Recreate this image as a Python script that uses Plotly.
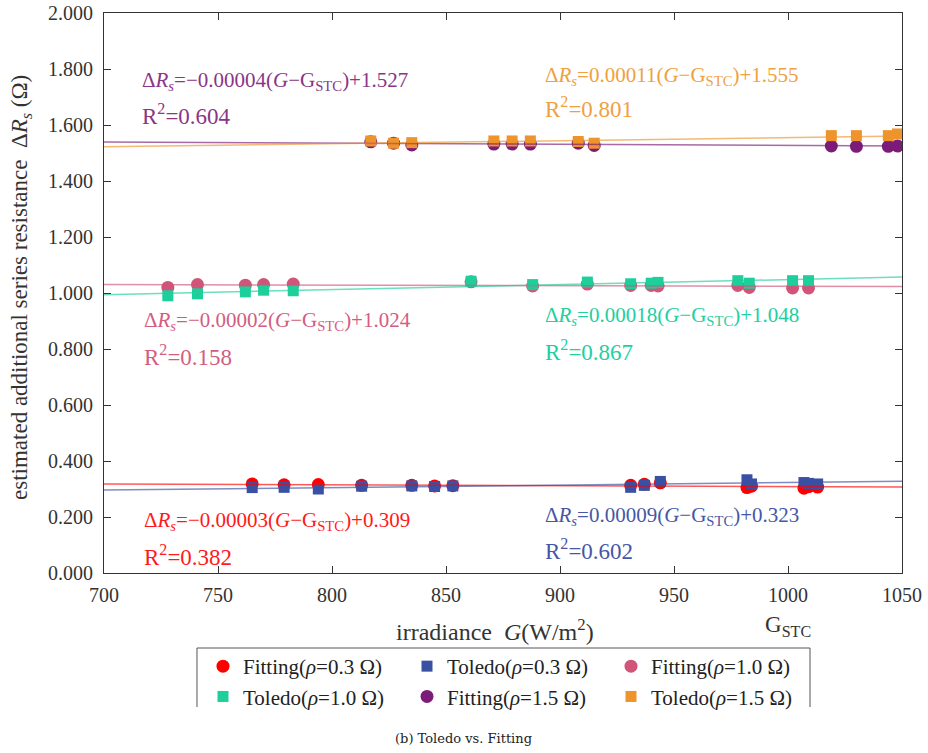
import plotly.graph_objects as go
import numpy as np

G_STC = 1000

# ---- data ----
g_low = [765, 779, 794, 813, 835, 845, 853, 931, 937, 944, 982, 984, 1007, 1009, 1013]
fit_03 = [0.318, 0.315, 0.316, 0.313, 0.313, 0.311, 0.312, 0.313, 0.317, 0.322, 0.305, 0.310, 0.303, 0.308, 0.307]
tol_03 = [0.305, 0.306, 0.300, 0.310, 0.311, 0.309, 0.311, 0.306, 0.313, 0.327, 0.333, 0.318, 0.323, 0.320, 0.318]

g_mid = [728, 741, 762, 770, 783, 861, 888, 912, 931, 940, 943, 978, 983, 1002, 1009]
fit_10 = [1.020, 1.030, 1.028, 1.030, 1.032, 1.040, 1.025, 1.032, 1.027, 1.027, 1.025, 1.027, 1.020, 1.018, 1.018]
tol_10 = [0.990, 0.997, 1.004, 1.010, 1.008, 1.042, 1.030, 1.039, 1.033, 1.035, 1.038, 1.044, 1.035, 1.044, 1.044]

g_high = [817, 827, 835, 871, 879, 887, 908, 915, 1019, 1030, 1044, 1048]
fit_15 = [1.540, 1.535, 1.529, 1.532, 1.532, 1.532, 1.535, 1.527, 1.525, 1.524, 1.524, 1.525]
tol_15 = [1.543, 1.535, 1.537, 1.543, 1.543, 1.543, 1.541, 1.535, 1.562, 1.562, 1.562, 1.568]

# fit coefficients (slope, intercept at G_STC, R^2)
names = ["Fitting(<i>ρ</i>=0.3 Ω)", "Toledo(<i>ρ</i>=0.3 Ω)", "Fitting(<i>ρ</i>=1.0 Ω)",
         "Toledo(<i>ρ</i>=1.0 Ω)", "Fitting(<i>ρ</i>=1.5 Ω)", "Toledo(<i>ρ</i>=1.5 Ω)"]
slopes = [-0.00003, 0.00009, -0.00002, 0.00018, -0.00004, 0.00011]
intercepts = [0.309, 0.323, 1.024, 1.048, 1.527, 1.555]
r2 = [0.382, 0.602, 0.158, 0.867, 0.604, 0.801]

x_range = [700, 1050]
y_ticks = [0.0, 0.2, 0.4, 0.6, 0.8, 1.0, 1.2, 1.4, 1.6, 1.8, 2.0]
x_ticks = [700, 750, 800, 850, 900, 950, 1000, 1050]

# ---- styles ----
marker_colors = ["#ff0000", "#3a50a2", "#d05578", "#1ecf9c", "#7a1c78", "#ef942c"]
text_colors = ["#ff1a1a", "#4657a6", "#d35d80", "#22cf9f", "#8a3586", "#f0a040"]
symbols = ["circle", "square", "circle", "square", "circle", "square"]
sizes = [13, 11, 13, 11, 13, 11]

series_x = [g_low, g_low, g_mid, g_mid, g_high, g_high]
series_y = [fit_03, tol_03, fit_10, tol_10, fit_15, tol_15]

SERIF = "Liberation Serif"

fig = go.Figure()
for i in range(6):
    fig.add_trace(go.Scatter(
        x=series_x[i], y=series_y[i], mode="markers", name=names[i],
        marker=dict(symbol=symbols[i], size=sizes[i], color=marker_colors[i], line=dict(width=0)),
    ))

for i in range(6):
    xs = np.array(x_range, dtype=float)
    ys = slopes[i] * (xs - G_STC) + intercepts[i]
    fig.add_trace(go.Scatter(
        x=xs, y=ys, mode="lines", showlegend=False, hoverinfo="skip",
        line=dict(color=marker_colors[i], width=1.5), opacity=0.65,
    ))

FW, FH = 928, 753
L, R, T, B = 104, 902, 13, 573          # plot area in pixels
W, H = R - L, B - T
def px(x):
    return (x - L) / W
def py(y):
    return (B - y) / H

# (x_px, y_px eq, y_px r2)
ann_pos = [(142, 521, 555), (543, 516, 549), (142, 321, 355),
           (543, 316, 350), (140, 81, 114), (543, 76, 108)]

annotations = []
for i in range(6):
    sign = "−" if slopes[i] < 0 else ""
    eq = ("Δ<i>R</i><sub><i>s</i></sub>=%s%.5f(<i>G</i>−G<sub>STC</sub>)+%.3f"
          % (sign, abs(slopes[i]), intercepts[i]))
    xp, ye, yr = ann_pos[i]
    annotations.append(dict(x=px(xp), y=py(ye), xref="paper", yref="paper", text=eq,
                            showarrow=False, xanchor="left", yanchor="middle",
                            font=dict(family=SERIF, size=21, color=text_colors[i])))
    annotations.append(dict(x=px(xp), y=py(yr), xref="paper", yref="paper",
                            text="R<sup>2</sup>=%.3f" % r2[i],
                            showarrow=False, xanchor="left", yanchor="middle",
                            font=dict(family=SERIF, size=23, color=text_colors[i])))

annotations.append(dict(x=px(495), y=py(630), xref="paper", yref="paper",
                        text="irradiance  <i>G</i>(W/m<sup>2</sup>)", showarrow=False,
                        xanchor="center", yanchor="middle",
                        font=dict(family=SERIF, size=24, color="#333333")))
annotations.append(dict(x=G_STC, y=py(626), xref="x", yref="paper",
                        text="G<sub>STC</sub>", showarrow=False,
                        xanchor="center", yanchor="middle",
                        font=dict(family=SERIF, size=23, color="#333333")))
annotations.append(dict(x=px(21), y=py(288), xref="paper", yref="paper",
                        text="estimated additional series resistance  Δ<i>R</i><sub><i>s</i></sub> (Ω)",
                        showarrow=False, textangle=-90, xanchor="center", yanchor="middle",
                        font=dict(family=SERIF, size=23, color="#333333")))
annotations.append(dict(x=px(463), y=py(738), xref="paper", yref="paper",
                        text="(b) Toledo vs. Fitting", showarrow=False,
                        xanchor="center", yanchor="middle",
                        font=dict(family="DejaVu Serif", size=13, color="#222222")))

# legend frame (bottom edge not drawn, as in the reference)
lx0, lx1, ly0, ly1 = px(197), px(810), py(648), py(707)
shapes = [dict(type="path", xref="paper", yref="paper",
               path="M %f,%f L %f,%f L %f,%f L %f,%f" % (lx0, ly1, lx0, ly0, lx1, ly0, lx1, ly1),
               line=dict(color="#555555", width=1))]

fig.update_layout(
    template="none",
    width=FW, height=FH,
    margin=dict(l=L, r=FW - R, t=T, b=FH - B, autoexpand=False),
    paper_bgcolor="white", plot_bgcolor="white",
    font=dict(family=SERIF, size=18, color="#333333"),
    showlegend=True,
    legend=dict(orientation="h", x=px(203), y=py(646), xanchor="left", yanchor="top",
                entrywidth=159, entrywidthmode="pixels", bgcolor="rgba(0,0,0,0)",
                borderwidth=0, font=dict(family=SERIF, size=21, color="#222222"),
                tracegroupgap=0, itemsizing="trace"),
    annotations=annotations,
    shapes=shapes,
    xaxis=dict(range=x_range, tickvals=x_ticks, ticks="inside", ticklen=7, tickcolor="#333333",
               showline=True, linecolor="#333333", linewidth=1, mirror="ticks",
               showgrid=False, zeroline=False, automargin=False, ticklabelstandoff=4,
               ticklabeloverflow="allow",
               tickfont=dict(family=SERIF, size=20, color="#333333")),
    yaxis=dict(range=[0, 2], tickvals=y_ticks, tickformat=".3f", ticks="inside", ticklen=7,
               tickcolor="#333333",
               showline=True, linecolor="#333333", linewidth=1, mirror="ticks",
               showgrid=False, zeroline=False, automargin=False, ticklabelstandoff=6,
               ticklabeloverflow="allow",
               tickfont=dict(family=SERIF, size=20, color="#333333")),
)

fig.write_html("out.html", config={"displayModeBar": False},
               post_script="document.body.style.margin='0px';")
